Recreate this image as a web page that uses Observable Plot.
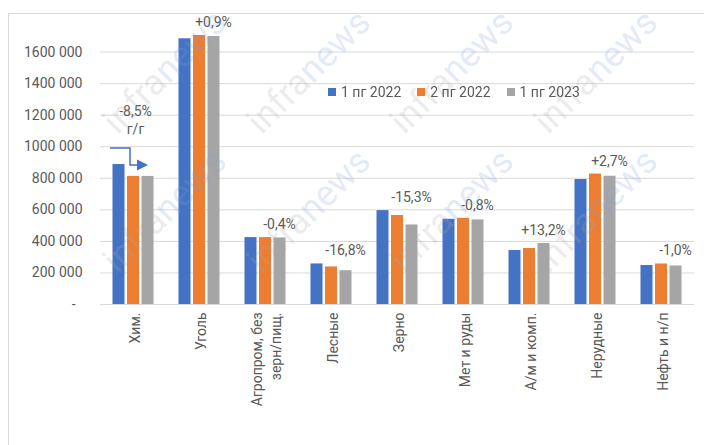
<!DOCTYPE html>
<html><head><meta charset="utf-8">
<script src="https://cdn.jsdelivr.net/npm/d3@7"></script>
<script src="https://cdn.jsdelivr.net/npm/@observablehq/plot@0.6"></script>
<style>
html,body{margin:0;padding:0;background:#fff;overflow:hidden;}
#wrap{position:relative;width:704px;height:445px;font-family:Roboto,"Liberation Sans",sans-serif;overflow:hidden;}
#frame{position:absolute;left:8px;top:13px;width:800px;height:500px;border:1px solid #d9d9d9;box-sizing:border-box;}
#chart{position:absolute;left:0;top:0;}
#legend{position:absolute;left:328px;top:84px;display:flex;gap:16px;font-size:14px;line-height:16px;color:#595959;}
.item{display:flex;align-items:center;}
.sw{width:8px;height:8px;margin-right:5px;}
</style></head>
<body><div id="wrap"><div id="frame"></div><div id="chart"></div><div id="legend"></div></div>
<script>
const categories = ["Хим.","Уголь","Агропром","Лесные","Зерно","Мет и руды","А/м и комп.","Нерудные","Нефть и н/п"];
const categoryLabels = ["Хим.","Уголь","Агропром, без\nзерн/пищ.","Лесные","Зерно","Мет и руды","А/м и комп.","Нерудные","Нефть и н/п"];
const seriesNames = ["1 пг 2022","2 пг 2022","1 пг 2023"];
const h1_2022 = [887000,1684000,424000,257000,595000,540000,342000,792000,247000];
const h2_2022 = [812000,1705000,424000,238000,564000,546000,355000,827000,257000];
const h1_2023 = [812000,1699000,422000,214000,504000,536000,387000,813000,244000];
const changeLabels = ["-8,5%\nг/г","+0,9%","-0,4%","-16,8%","-15,3%","-0,8%","+13,2%","+2,7%","-1,0%"];
const yTicks = [0,200000,400000,600000,800000,1000000,1200000,1400000,1600000];
const yTickLabels = ["-\u00a0\u00a0","200 000","400 000","600 000","800 000","1000 000","1200 000","1400 000","1600 000"];
const colors = ["#4472C4","#ED7D31","#A5A5A5"];
const seriesValues = [h1_2022,h2_2022,h1_2023];
const barOffsets = [-14.5,0,14.5];

const data = categories.flatMap((c,i)=>seriesNames.map((s,j)=>({cat:c,series:s,value:seriesValues[j][i]})));
const annot = categories.map((c,i)=>({cat:c,label:changeLabels[i],max:Math.max(h1_2022[i],h2_2022[i],h1_2023[i])}));

const chart = Plot.plot({
  width:704, height:445, marginLeft:100, marginRight:10, marginTop:20, marginBottom:141,
  style:{fontFamily:"Roboto, 'Liberation Sans', sans-serif", fontSize:"14px", color:"#595959", background:"transparent", overflow:"visible"},
  x:{type:"band", domain:categories, paddingInner:0.825, paddingOuter:0.4125},
  y:{domain:[0,1800000]},
  marks:[
    Plot.ruleY(yTicks,{stroke:"#d9d9d9",strokeWidth:1}),
    ...seriesNames.map((s,j)=>Plot.barY(data.filter(d=>d.series===s),{x:"cat",y:"value",fill:colors[j],dx:barOffsets[j]})),
    Plot.axisY(yTicks,{tickSize:0,tickPadding:18,label:null,tickFormat:d=>yTickLabels[yTicks.indexOf(d)],fill:"#595959"}),
    Plot.axisX({tickRotate:-90,tickSize:0,tickPadding:8,label:null,lineHeight:1.35,tickFormat:d=>categoryLabels[categories.indexOf(d)],fill:"#595959"}),
    Plot.text(annot.slice(1),{x:"cat",y:"max",text:"label",dx:14,dy:-13,fill:"#595959"}),
    Plot.text(annot.slice(0,1),{x:"cat",y:"max",text:"label",dx:2,dy:-45,lineHeight:1.3,fill:"#595959"})
  ]
});
document.getElementById("chart").appendChild(chart);

// arrow annotation for Хим., positioned through the plot's scales
const sx = chart.scale("x"), sy = chart.scale("y");
const cx = sx.apply(categories[0]) + sx.bandwidth/2;
const yb = sy.apply(h1_2022[0]);
const svg = d3.select(chart);
svg.append("path").attr("d",`M${cx-23},${yb-16}H${cx-3}V${yb+1}H${cx+6}`)
  .attr("fill","none").attr("stroke","#4472C4").attr("stroke-width",1.5);
svg.append("path").attr("d",`M${cx+4},${yb-4.5}L${cx+15},${yb+1}L${cx+4},${yb+6.5}Z`).attr("fill","#4472C4");

// watermark
const wm = svg.append("g").attr("pointer-events","none").attr("opacity",0.22);
[166,310,453,597].forEach(x=>[73,212].forEach(y=>{
  const t = wm.append("text").attr("transform",`translate(${x},${y}) rotate(-45)`)
    .attr("text-anchor","middle").attr("dominant-baseline","middle")
    .attr("font-size",36).attr("font-family","Roboto, sans-serif");
  t.append("tspan").attr("fill","#a8a8a8").text("infra");
  t.append("tspan").attr("fill","#7aa3dc").text("news");
}));

const legend = document.getElementById("legend");
seriesNames.forEach((s,j)=>{
  const it = document.createElement("div"); it.className="item";
  const sw = document.createElement("span"); sw.className="sw"; sw.style.background=colors[j];
  const tx = document.createElement("span"); tx.textContent=s;
  it.appendChild(sw); it.appendChild(tx); legend.appendChild(it);
});
</script></body></html>
